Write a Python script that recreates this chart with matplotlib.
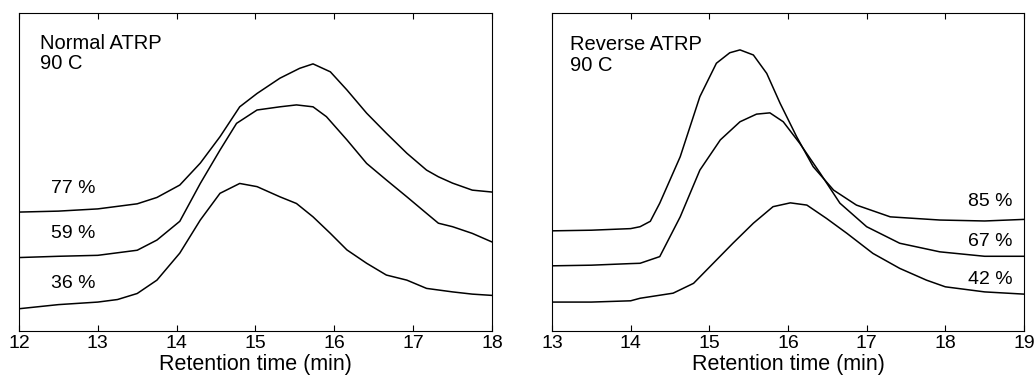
import matplotlib.pyplot as plt

plt.rcParams['font.family'] = ['Liberation Sans', 'DejaVu Sans']

# left panel: normal ATRP, retention time (min) vs detector signal (arb.)
t_77 = [12, 12.5, 13, 13.5, 13.75, 14.04, 14.3, 14.55, 14.8, 15.02, 15.31, 15.56,
        15.73, 15.95, 16.16, 16.41, 16.66, 16.92, 17.17, 17.32, 17.5, 17.75, 18]
sig_77 = [0.374, 0.377, 0.384, 0.40, 0.42, 0.459, 0.528, 0.611, 0.705, 0.747, 0.795, 0.826,
          0.840, 0.815, 0.758, 0.685, 0.622, 0.559, 0.506, 0.485, 0.465, 0.443, 0.437]
t_59 = [12, 12.5, 13, 13.5, 13.75, 14.04, 14.3, 14.55, 14.76, 15.02, 15.31, 15.52,
        15.73, 15.9, 16.16, 16.41, 16.66, 16.92, 17.17, 17.32, 17.5, 17.75, 18]
sig_59 = [0.231, 0.235, 0.238, 0.254, 0.286, 0.345, 0.464, 0.569, 0.653, 0.695, 0.705, 0.711,
          0.705, 0.674, 0.601, 0.527, 0.475, 0.422, 0.370, 0.339, 0.328, 0.307, 0.280]
t_36 = [12, 12.5, 13, 13.25, 13.5, 13.75, 14.04, 14.3, 14.55, 14.8, 15.02, 15.31,
        15.52, 15.73, 15.95, 16.16, 16.41, 16.66, 16.92, 17.17, 17.5, 17.75, 18]
sig_36 = [0.070, 0.083, 0.091, 0.099, 0.118, 0.160, 0.245, 0.349, 0.433, 0.464, 0.454, 0.422,
          0.401, 0.359, 0.307, 0.255, 0.213, 0.176, 0.160, 0.134, 0.123, 0.116, 0.112]

# right panel: reverse ATRP
t_85 = [13, 13.5, 14, 14.12, 14.25, 14.37, 14.63, 14.88, 15.09, 15.26, 15.39, 15.56,
        15.73, 15.9, 16.11, 16.32, 16.58, 16.87, 17.3, 17.93, 18.5, 19]
sig_85 = [0.315, 0.317, 0.322, 0.328, 0.345, 0.402, 0.548, 0.737, 0.842, 0.875, 0.884, 0.868,
          0.810, 0.716, 0.611, 0.517, 0.443, 0.396, 0.359, 0.349, 0.346, 0.351]
t_67 = [13, 13.5, 14, 14.12, 14.37, 14.63, 14.88, 15.14, 15.39, 15.6, 15.77, 15.94,
        16.15, 16.41, 16.66, 17.0, 17.42, 17.93, 18.5, 19]
sig_67 = [0.205, 0.207, 0.212, 0.213, 0.234, 0.359, 0.506, 0.601, 0.658, 0.682, 0.686, 0.658,
          0.590, 0.496, 0.402, 0.328, 0.276, 0.249, 0.235, 0.235]
t_42 = [13, 13.5, 14, 14.12, 14.54, 14.8, 15.05, 15.3, 15.56, 15.81, 16.03, 16.24,
        16.49, 16.75, 17.08, 17.42, 17.76, 18, 18.5, 19]
sig_42 = [0.091, 0.091, 0.095, 0.103, 0.119, 0.150, 0.213, 0.276, 0.339, 0.391, 0.403, 0.396,
          0.354, 0.307, 0.244, 0.197, 0.160, 0.139, 0.123, 0.116]

labels_normal = ["77 %", "59 %", "36 %"]
label_y_normal = [0.449, 0.307, 0.149]
labels_rev = ["85 %", "67 %", "42 %"]
label_y_rev = [0.407, 0.280, 0.162]

fig = plt.figure(figsize=(10.36, 3.78), dpi=100)
ax1 = fig.add_axes([0.0183, 0.1243, 0.4566, 0.8413])
ax2 = fig.add_axes([0.5328, 0.1243, 0.4556, 0.8413])

ax1.plot(t_77, sig_77, color='black', lw=1.1)
ax1.plot(t_59, sig_59, color='black', lw=1.1)
ax1.plot(t_36, sig_36, color='black', lw=1.1)
ax2.plot(t_85, sig_85, color='black', lw=1.1)
ax2.plot(t_67, sig_67, color='black', lw=1.1)
ax2.plot(t_42, sig_42, color='black', lw=1.1)

for lab, y in zip(labels_normal, label_y_normal):
    ax1.text(12.41, y, lab, fontsize=14, va='center', ha='left')
for lab, y in zip(labels_rev, label_y_rev):
    ax2.text(18.86, y, lab, fontsize=14, va='center', ha='right')

ax1.text(12.27, 0.935, "Normal ATRP\n90 C", fontsize=14.5, va='top', ha='left', linespacing=1.1)
ax2.text(13.23, 0.93, "Reverse ATRP\n90 C", fontsize=14.5, va='top', ha='left', linespacing=1.1)

for ax, lo, hi in ((ax1, 12, 18), (ax2, 13, 19)):
    ax.set_xlim(lo, hi)
    ax.set_ylim(0, 1)
    ax.set_xticks(range(lo, hi + 1))
    ax.set_yticks([])
    ax.tick_params(axis='x', direction='in', top=True, length=4, width=0.8,
                   labelsize=14, pad=3)
    ax.set_xlabel("Retention time (min)", fontsize=15.5, labelpad=1)
    for sp in ax.spines.values():
        sp.set_linewidth(0.8)

fig.savefig("out.png", dpi=100)
